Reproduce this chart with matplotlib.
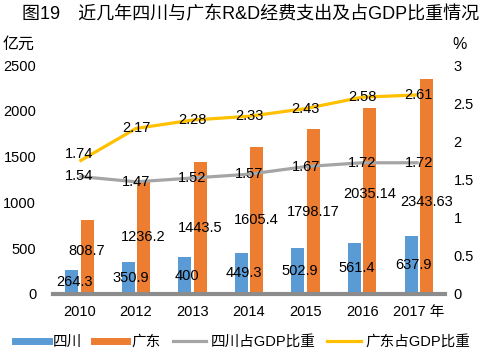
import matplotlib
matplotlib.use("Agg")
import matplotlib.pyplot as plt
import numpy as np
from matplotlib.lines import Line2D

plt.rcParams['font.family'] = ['Liberation Sans', 'Noto Sans CJK SC']

years = ['2010', '2012', '2013', '2014', '2015', '2016', '2017 年']
sichuan = [264.3, 350.9, 400, 449.3, 502.9, 561.4, 637.9]
guangdong = [808.7, 1236.2, 1443.5, 1605.4, 1798.17, 2035.14, 2343.63]
sc_labels = ['264.3', '350.9', '400', '449.3', '502.9', '561.4', '637.9']
gd_labels = ['808.7', '1236.2', '1443.5', '1605.4', '1798.17', '2035.14', '2343.63']
sc_ratio = [1.54, 1.47, 1.52, 1.57, 1.67, 1.72, 1.72]
gd_ratio = [1.74, 2.17, 2.28, 2.33, 2.43, 2.58, 2.61]

blue = '#5B9BD5'
orange = '#ED7D31'
gray = '#A5A5A5'
yellow = '#FFC000'
fs = 10.5

fig = plt.figure(figsize=(4.85, 3.58), dpi=100)
ax = fig.add_axes([0.109, 0.179, 0.809, 0.639])
x = np.arange(len(years))
w = 0.23
off = 0.135
ax.bar(x - off, sichuan, w, color=blue, zorder=2)
ax.bar(x + off, guangdong, w, color=orange, zorder=2)
ax.set_xlim(-0.47, len(years) - 0.53)
ax.set_ylim(0, 2500)
ax.set_yticks(np.arange(0, 2501, 500))
ax.set_xticks(x)
ax.set_xticklabels(years, fontsize=fs)
for s in ['left', 'right', 'top']:
    ax.spines[s].set_visible(False)
ax.spines['bottom'].set_color('#8C8C8C')
ax.spines['bottom'].set_linewidth(3)
ax.tick_params(axis='both', length=0, labelsize=fs)
ax.tick_params(axis='x', pad=8)
ax.tick_params(axis='y', pad=12)

# label vertical nudges (in data units) to mimic the reference placement
gd_nudge = [60, 0, 0, 0, 0, 70, -170]
for i in range(len(years)):
    ax.text(x[i] - off + 0.04, sichuan[i] / 2, sc_labels[i], ha='center', va='center', fontsize=fs, zorder=5)
    ax.text(x[i] + off, guangdong[i] / 2 + gd_nudge[i], gd_labels[i], ha='center', va='center', fontsize=fs, zorder=5)

ax2 = ax.twinx()
ax2.set_ylim(0, 3)
ax2.set_yticks(np.arange(0, 3.01, 0.5))
ax2.set_yticklabels(['0', '0.5', '1', '1.5', '2', '2.5', '3'])
for s in ['left', 'right', 'top', 'bottom']:
    ax2.spines[s].set_visible(False)
ax2.tick_params(axis='y', length=0, labelsize=fs, pad=6)
ax2.plot(x, sc_ratio, color=gray, lw=2.3, solid_capstyle='butt', zorder=3)
ax2.plot(x, gd_ratio, color=yellow, lw=2.3, solid_capstyle='butt', zorder=3)
for i in range(len(years)):
    ax2.text(x[i], sc_ratio[i], f'{sc_ratio[i]:.2f}', ha='center', va='center', fontsize=fs, zorder=5)
    ax2.text(x[i], gd_ratio[i] + (0.1 if i == 0 else 0.0), f'{gd_ratio[i]:.2f}', ha='center', va='center', fontsize=fs, zorder=5)

fig.text(0.045, 0.96, '图19　近几年四川与广东R&D经费支出及占GDP比重情况', ha='left', va='center', fontsize=13)
fig.text(0.005, 0.875, '亿元', ha='left', va='center', fontsize=11.5)
fig.text(0.932, 0.875, '%', ha='left', va='center', fontsize=11.5)

handles = [Line2D([0], [0], color=blue, lw=5),
           Line2D([0], [0], color=orange, lw=5),
           Line2D([0], [0], color=gray, lw=2.3),
           Line2D([0], [0], color=yellow, lw=2.3)]
fig.legend(handles, ['四川', '广东', '四川占GDP比重', '广东占GDP比重'], loc='center',
           bbox_to_anchor=(0.5, 0.045), ncol=4, frameon=False, fontsize=fs,
           handlelength=2.3, handletextpad=0.3, columnspacing=0.8)

fig.savefig('out.png', dpi=100)
